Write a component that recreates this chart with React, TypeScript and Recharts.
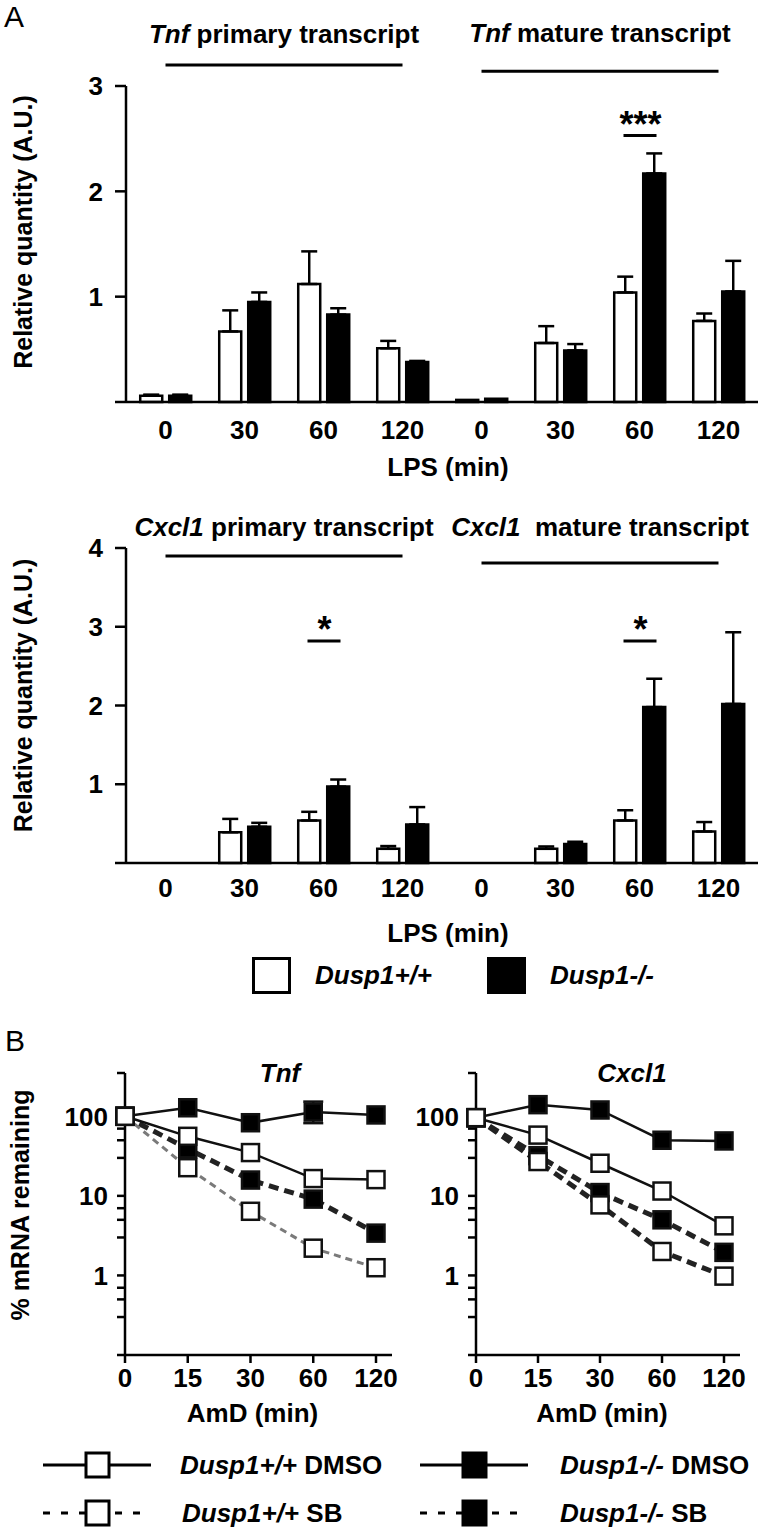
import React from "react";
import {
  BarChart,
  Bar,
  XAxis,
  YAxis,
  ErrorBar,
  ReferenceLine,
  ReferenceDot,
  LineChart,
  Line,
} from "recharts";

const FONT = '"Liberation Sans", Arial, Helvetica, sans-serif';

// ---- panel A data ----
const lpsTimes = ["0", "30", "60", "120"];
const transcripts = ["primary", "mature"];
const genotypes = ["Dusp1+/+", "Dusp1-/-"];
const genotypeFills = ["#ffffff", "#000000"];

const tnfWt = [0.06, 0.67, 1.12, 0.51, 0.02, 0.56, 1.04, 0.77];
const tnfWtSem = [0.01, 0.2, 0.31, 0.07, 0, 0.16, 0.15, 0.07];
const tnfKo = [0.06, 0.95, 0.83, 0.38, 0.03, 0.49, 2.17, 1.05];
const tnfKoSem = [0.01, 0.09, 0.06, 0.01, 0, 0.06, 0.19, 0.29];

const cxclWt = [0, 0.39, 0.54, 0.18, 0, 0.18, 0.54, 0.4];
const cxclWtSem = [0, 0.17, 0.11, 0.035, 0, 0.03, 0.13, 0.12];
const cxclKo = [0, 0.46, 0.97, 0.49, 0, 0.24, 1.98, 2.02];
const cxclKoSem = [0, 0.05, 0.09, 0.22, 0, 0.03, 0.36, 0.91];

const tnfSig = [{ id: "mature-60", y: 2.53, text: "***" }];
const cxclSig = [
  { id: "primary-60", y: 2.82, text: "*" },
  { id: "mature-60", y: 2.82, text: "*" },
];

// ---- panel B data ----
const amdTimes = ["0", "15", "30", "60", "120"];
const tnfWtDmso = [100, 56, 35, 16.5, 16];
const tnfKoDmso = [100, 128, 83, 113, 104];
const tnfKoDmsoErr = [null, null, null, [31, 40], null];
const tnfWtSb = [100, 22.6, 6.4, 2.2, 1.25];
const tnfKoSb = [100, 39, 15.8, 9.1, 3.4];

const cxclWtDmso = [96, 58, 25.7, 11.5, 4.2];
const cxclKoDmso = [96, 140, 120, 50, 49];
const cxclWtSb = [96, 27, 7.7, 2.0, 0.98];
const cxclKoSb = [96, 32, 11, 5, 1.95];

const logTicks = [0.1, 0.3, 0.5, 0.7, 1, 3, 5, 7, 10, 30, 50, 70, 100, 350];

const categoryIds = transcripts.flatMap((tr) => lpsTimes.map((t) => `${tr}-${t}`));

function barRows(wt: number[], wtSem: number[], ko: number[], koSem: number[]) {
  return categoryIds.map((id, i) => ({
    id,
    wt: wt[i],
    wtErr: wtSem[i] > 0 ? [0, wtSem[i]] : null,
    ko: ko[i],
    koErr: koSem[i] > 0 ? [0, koSem[i]] : null,
  }));
}

function lineRows(wtD: number[], koD: number[], wtS: number[], koS: number[], koDErr?: any[]) {
  return amdTimes.map((t, i) => ({
    t,
    wtDmso: wtD[i],
    koDmso: koD[i],
    wtSb: wtS[i],
    koSb: koS[i],
    koDmsoErr: koDErr ? koDErr[i] : null,
  }));
}

const tnfBars = barRows(tnfWt, tnfWtSem, tnfKo, tnfKoSem);
const cxclBars = barRows(cxclWt, cxclWtSem, cxclKo, cxclKoSem);
const tnfLines = lineRows(tnfWtDmso, tnfKoDmso, tnfWtSb, tnfKoSb, tnfKoDmsoErr);
const cxclLines = lineRows(cxclWtDmso, cxclKoDmso, cxclWtSb, cxclKoSb);

const axisStyle = { stroke: "#000", strokeWidth: 2.5 };
const tickText = { fontFamily: FONT, fontWeight: "bold", fontSize: 26, fill: "#000" };

const xTitle = (text: string, dy: number, dx = 0) => (p: any) => {
  const vb = p.viewBox || {};
  return (
    <text x={vb.x + vb.width / 2 + dx} y={vb.y + dy} textAnchor="middle" {...tickText}>
      {text}
    </text>
  );
};

const yTitle = (text: string, x: number, shift: number) => (p: any) => {
  const vb = p.viewBox || {};
  const cy = vb.y + vb.height / 2 + shift;
  return (
    <text
      x={x}
      y={cy}
      transform={`rotate(-90, ${x}, ${cy})`}
      textAnchor="middle"
      dominantBaseline="central"
      fontFamily={FONT}
      fontWeight="bold"
      fontSize={25}
      fill="#000"
    >
      {text}
    </text>
  );
};

const groupTitle = (gene: string, rest: string, dy: number) => (p: any) => {
  const vb = p.viewBox || {};
  return (
    <text x={vb.x + (vb.width || 0) / 2} y={vb.y + dy} textAnchor="middle" {...tickText}>
      <tspan fontStyle="italic">{gene}</tspan>
      {rest}
    </text>
  );
};

// significance bracket: short bar between the two bars with stars above
const SigMark = ({ cx, cy, text }: any) => (
  <g>
    <line x1={cx - 16} x2={cx + 17} y1={cy} y2={cy} stroke="#000" strokeWidth={3} />
    <text x={cx + 1} y={cy + 1} textAnchor="middle" fontFamily={FONT} fontWeight="bold" fontSize={36} fill="#000">
      {text}
    </text>
  </g>
);

function BarPanel({ rows, gene, yMax, lineY, titleDy, sig, margin, tickGap, xLabelDy, yShift, restRight }: any) {
  const ticks = Array.from({ length: yMax + 1 }, (_, i) => i);
  return (
    <BarChart width={761} height={500} data={rows} margin={margin} barCategoryGap="18%" barGap={7}>
      <XAxis
        dataKey="id"
        interval={0}
        height={80}
        tickLine={false}
        tickSize={0}
        tickMargin={tickGap}
        axisLine={axisStyle}
        tick={tickText}
        tickFormatter={(v: string) => v.split("-")[1]}
        label={xTitle("LPS (min)", xLabelDy, 6)}
      />
      <YAxis
        width={126}
        domain={[0, yMax]}
        ticks={ticks}
        interval={0}
        tickSize={11}
        tickMargin={12}
        axisLine={axisStyle}
        tickLine={axisStyle}
        tick={tickText}
        tickFormatter={(v: number) => (v === 0 ? "" : String(v))}
        label={yTitle("Relative quantity (A.U.)", 23, yShift)}
      />
      {genotypes.map((g, gi) => (
        <Bar
          key={g}
          dataKey={gi === 0 ? "wt" : "ko"}
          name={g}
          fill={genotypeFills[gi]}
          stroke="#000"
          strokeWidth={2.5}
          isAnimationActive={false}
        >
          <ErrorBar dataKey={gi === 0 ? "wtErr" : "koErr"} width={8} stroke="#000" strokeWidth={2.5} direction="y" />
        </Bar>
      ))}
      <ReferenceLine
        segment={[
          { x: "primary-0", y: lineY[0] },
          { x: "primary-120", y: lineY[0] },
        ]}
        stroke="#000"
        strokeWidth={3}
        ifOverflow="visible"
        label={groupTitle(gene, " primary transcript", titleDy[0])}
      />
      <ReferenceLine
        segment={[
          { x: "mature-0", y: lineY[1] },
          { x: "mature-120", y: lineY[1] },
        ]}
        stroke="#000"
        strokeWidth={3}
        ifOverflow="visible"
        label={groupTitle(gene, restRight, titleDy[1])}
      />
      {sig.map((s: any) => (
        <ReferenceDot
          key={s.id}
          x={s.id}
          y={s.y}
          r={0}
          ifOverflow="visible"
          shape={(p: any) => <SigMark cx={p.cx} cy={p.cy} text={s.text} />}
        />
      ))}
    </BarChart>
  );
}

const squareDot = (fill: string, size: number) => (p: any) => {
  const { cx, cy, index } = p;
  if (cx == null || cy == null) return <g key={`e-${index}`} />;
  return (
    <rect
      key={`sq-${index}`}
      x={cx - size / 2}
      y={cy - size / 2}
      width={size}
      height={size}
      fill={fill}
      stroke="#111"
      strokeWidth={2.5}
    />
  );
};

function DecayPanel({ rows, width, margin, yWidth, showYLabel, wtSbStyle }: any) {
  return (
    <LineChart width={width} height={410} data={rows} margin={margin}>
      <XAxis
        dataKey="t"
        interval={0}
        height={70}
        padding={{ left: 0, right: 16 }}
        tickSize={8}
        tickMargin={6}
        axisLine={axisStyle}
        tickLine={axisStyle}
        tick={tickText}
        label={xTitle("AmD (min)", 67, -6)}
      />
      <YAxis
        width={yWidth}
        scale="log"
        type="number"
        domain={[0.1, 350]}
        allowDataOverflow
        ticks={logTicks}
        interval={0}
        tickSize={8}
        tickMargin={9}
        axisLine={axisStyle}
        tickLine={axisStyle}
        tick={tickText}
        tickFormatter={(v: number) => (v === 1 || v === 10 || v === 100 ? String(v) : "")}
        label={showYLabel ? yTitle("% mRNA remaining", 20, -9) : undefined}
      />
      <Line
        dataKey="koDmso"
        stroke="#111"
        strokeWidth={2.5}
        dot={squareDot("#000", 17)}
        activeDot={false}
        isAnimationActive={false}
      >
        <ErrorBar dataKey="koDmsoErr" width={10} stroke="#111" strokeWidth={2.5} direction="y" />
      </Line>
      <Line
        dataKey="koSb"
        stroke="#222"
        strokeWidth={5}
        strokeDasharray="10 6"
        dot={squareDot("#000", 17)}
        activeDot={false}
        isAnimationActive={false}
      />
      <Line
        dataKey="wtSb"
        stroke={wtSbStyle.stroke}
        strokeWidth={wtSbStyle.width}
        strokeDasharray={wtSbStyle.dash}
        dot={squareDot("#fff", 17)}
        activeDot={false}
        isAnimationActive={false}
      />
      <Line
        dataKey="wtDmso"
        stroke="#111"
        strokeWidth={2.5}
        dot={squareDot("#fff", 17)}
        activeDot={false}
        isAnimationActive={false}
      />
    </LineChart>
  );
}

const amdLegend = [
  { label: "Dusp1+/+", treat: " DMSO", fill: "#fff", dash: undefined, left: 41, top: 1465, textLeft: 180 },
  { label: "Dusp1-/-", treat: " DMSO", fill: "#000", dash: undefined, left: 418, top: 1465, textLeft: 560 },
  { label: "Dusp1+/+", treat: " SB", fill: "#fff", dash: "7 11", left: 41, top: 1513, textLeft: 182 },
  { label: "Dusp1-/-", treat: " SB", fill: "#000", dash: "7 11", left: 418, top: 1513, textLeft: 560 },
];

const txt: React.CSSProperties = {
  position: "absolute",
  fontFamily: FONT,
  fontWeight: "bold",
  fontSize: 26,
  lineHeight: "30px",
  color: "#000",
  whiteSpace: "nowrap",
};

export default function App() {
  return (
    <div style={{ position: "absolute", left: 0, top: 0, width: 761, height: 1532, background: "#fff", overflow: "hidden" }}>
      <div style={{ ...txt, fontWeight: "normal", fontSize: 30, left: 4, top: 2 }}>A</div>
      <div style={{ position: "absolute", left: 0, top: 0 }}>
        <BarPanel
          rows={tnfBars}
          gene="Tnf"
          yMax={3}
          lineY={[3.2, 3.14]}
          titleDy={[-22, -29]}
          sig={tnfSig}
          margin={{ top: 86, right: 3, bottom: 18, left: 0 }}
          tickGap={19}
          xLabelDy={74}
          yShift={-12}
          restRight=" mature transcript"
        />
      </div>
      <div style={{ position: "absolute", left: 0, top: 480 }}>
        <BarPanel
          rows={cxclBars}
          gene="Cxcl1"
          yMax={4}
          lineY={[3.9, 3.81]}
          titleDy={[-20, -27]}
          sig={cxclSig}
          margin={{ top: 68, right: 3, bottom: 37, left: 0 }}
          tickGap={16}
          xLabelDy={79}
          yShift={-10}
          restRight={"\u00a0 mature transcript"}
        />
      </div>

      {genotypes.map((g, gi) => (
        <React.Fragment key={g}>
          <div
            style={{
              position: "absolute",
              left: gi === 0 ? 252 : 487,
              top: 957,
              width: 33,
              height: 31,
              border: "3px solid #000",
              background: genotypeFills[gi],
            }}
          />
          <div style={{ ...txt, fontStyle: "italic", left: gi === 0 ? 315 : 550, top: 960 }}>{g}</div>
        </React.Fragment>
      ))}

      <div style={{ ...txt, fontWeight: "normal", fontSize: 30, left: 5, top: 1026 }}>B</div>
      <div style={{ ...txt, fontStyle: "italic", left: 180, width: 200, textAlign: "center", top: 1058 }}>Tnf</div>
      <div style={{ ...txt, fontStyle: "italic", left: 532, width: 200, textAlign: "center", top: 1058 }}>Cxcl1</div>

      <div style={{ position: "absolute", left: 0, top: 1030 }}>
        <DecayPanel
          rows={tnfLines}
          width={400}
          margin={{ top: 43, right: 8, bottom: 15, left: 0 }}
          yWidth={125}
          showYLabel
          wtSbStyle={{ stroke: "#7a7a7a", width: 3, dash: "7 5" }}
        />
      </div>
      <div style={{ position: "absolute", left: 350, top: 1030 }}>
        <DecayPanel
          rows={cxclLines}
          width={411}
          margin={{ top: 43, right: 21, bottom: 15, left: 0 }}
          yWidth={126}
          showYLabel={false}
          wtSbStyle={{ stroke: "#222", width: 5, dash: "10 6" }}
        />
      </div>

      {amdLegend.map((item) => (
        <React.Fragment key={item.label + item.treat}>
          <svg style={{ position: "absolute", left: item.left, top: item.top - 15 }} width={112} height={30}>
            <line
              x1={2}
              x2={item.dash ? 100 : 110}
              y1={15}
              y2={15}
              stroke="#000"
              strokeWidth={3}
              strokeDasharray={item.dash}
            />
            <rect x={45} y={3} width={23} height={24} fill={item.fill} stroke="#000" strokeWidth={3} />
          </svg>
          <div style={{ ...txt, left: item.textLeft, top: item.top - 15 }}>
            <i>{item.label}</i>
            {item.treat}
          </div>
        </React.Fragment>
      ))}
    </div>
  );
}
